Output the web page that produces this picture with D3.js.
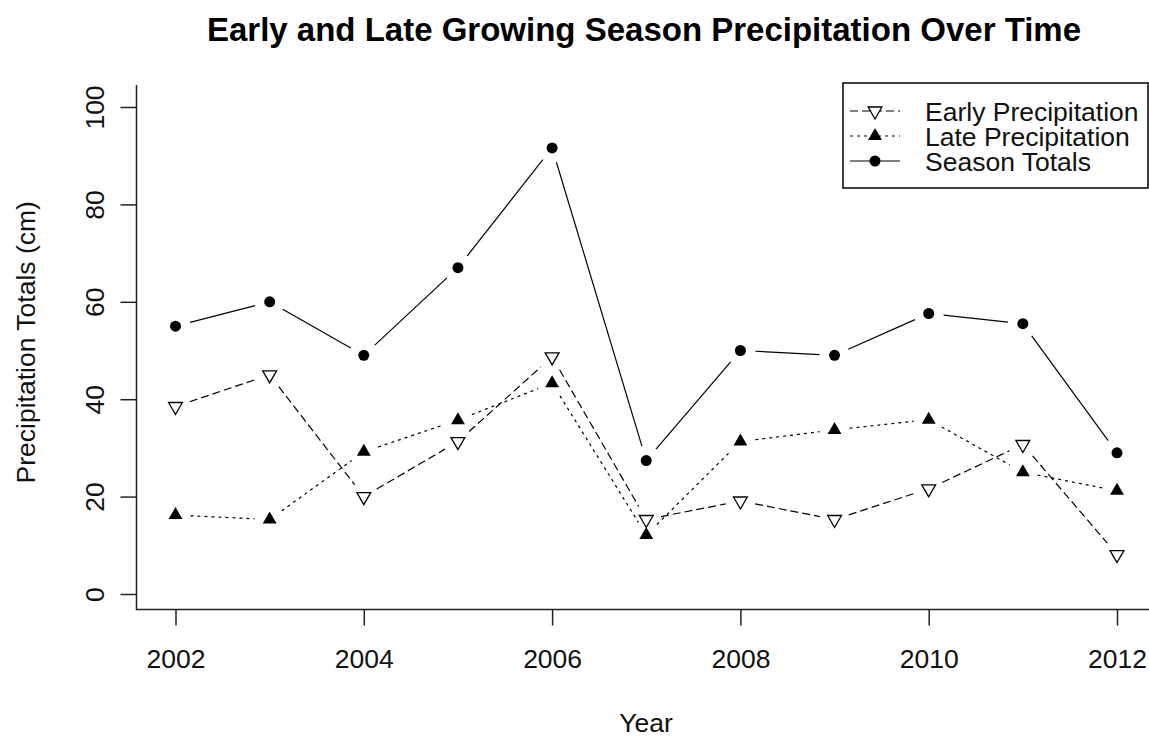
<!DOCTYPE html>
<html>
<head>
<meta charset="utf-8">
<script src="https://cdn.jsdelivr.net/npm/d3@7"></script>
<style>
  html, body { margin: 0; padding: 0; background: #fff; }
  svg { display: block; font-family: "Liberation Sans", Arial, sans-serif; }
</style>
</head>
<body>
<svg id="chart" width="1149" height="738"></svg>
<script>
// Growing season precipitation (cm), 2002-2012
const years = [2002, 2003, 2004, 2005, 2006, 2007, 2008, 2009, 2010, 2011, 2012];
const earlyPrecip = [38.5, 45.0, 20.0, 31.3, 48.7, 15.3, 19.1, 15.3, 21.6, 30.7, 8.1];
const latePrecip = [16.2, 15.3, 29.2, 35.7, 43.3, 12.1, 31.3, 33.7, 35.8, 25.0, 21.2];
const seasonTotals = [55.0, 60.0, 49.0, 67.0, 91.6, 27.4, 50.0, 49.0, 57.6, 55.5, 29.0];

const xTickValues = [2002, 2004, 2006, 2008, 2010, 2012];
const yTickValues = [0, 20, 40, 60, 80, 100];
const seriesNames = ["Early Precipitation", "Late Precipitation", "Season Totals"];

const titleText = "Early and Late Growing Season Precipitation Over Time";
const xLabel = "Year";
const yLabel = "Precipitation Totals (cm)";

const svg = d3.select("#chart");
const FONT = 26.5;

// plot region (R-style: data range padded by 4%)
const plot = { left: 136.5, right: 1155, top: 85, bottom: 609.5 };

const x = d3.scaleLinear().domain([2002, 2012]).range([175.5, 1117]);
const y = d3.scaleLinear().domain([0, 100]).range([594, 107]);

// L-shaped frame
svg.append("path")
  .attr("d", `M${plot.left},${plot.top}V${plot.bottom}H${plot.right}`)
  .attr("fill", "none").attr("stroke", "#222").attr("stroke-width", 1.5);

// x axis ticks and labels
const xAxis = d3.axisBottom(x).tickValues(xTickValues).tickFormat(d3.format("d"))
  .tickSize(16).tickPadding(24);
const gx = svg.append("g").attr("transform", `translate(0,${plot.bottom})`).call(xAxis);
gx.select(".domain").remove();
gx.selectAll(".tick line").attr("stroke", "#222").attr("stroke-width", 1.5);
gx.selectAll(".tick text").attr("font-size", FONT).attr("fill", "#111")
  .attr("font-family", "Liberation Sans, Arial, sans-serif");

// y axis ticks and rotated labels
const yAxis = d3.axisLeft(y).tickValues(yTickValues).tickSize(16).tickFormat(d3.format("d"));
const gy = svg.append("g").attr("transform", `translate(${plot.left},0)`).call(yAxis);
gy.select(".domain").remove();
gy.selectAll(".tick line").attr("stroke", "#222").attr("stroke-width", 1.5);
gy.selectAll(".tick text")
  .attr("x", null).attr("dy", null)
  .attr("transform", "translate(-33,0) rotate(-90)")
  .attr("text-anchor", "middle")
  .attr("font-size", FONT).attr("fill", "#111")
  .attr("font-family", "Liberation Sans, Arial, sans-serif");

// titles
svg.append("text").attr("x", 644).attr("y", 41).attr("text-anchor", "middle")
  .attr("font-size", 33).attr("font-weight", "bold").attr("fill", "#000").text(titleText);
svg.append("text").attr("x", 646).attr("y", 732).attr("text-anchor", "middle")
  .attr("font-size", FONT).attr("fill", "#111").text(xLabel);
svg.append("text").attr("transform", `translate(35,${(plot.top + plot.bottom) / 2 - 5}) rotate(-90)`)
  .attr("text-anchor", "middle").attr("font-size", FONT).attr("fill", "#111").text(yLabel);

// marker shapes
const TRI = 16 * Math.sqrt(3) * 3;       // circumradius 8
const triUp = d3.symbol().type(d3.symbolTriangle).size(TRI)();
const dot = d3.symbol().type(d3.symbolCircle).size(Math.PI * 5.5 * 5.5)();

const series = [
  { name: seriesNames[0], values: earlyPrecip, dash: "8,4", marker: triUp, rot: 180, fill: "#fff", stroke: "#000" },
  { name: seriesNames[1], values: latePrecip, dash: "3,4", marker: triUp, rot: 0, fill: "#000", stroke: "none" },
  { name: seriesNames[2], values: seasonTotals, dash: null, marker: dot, rot: 0, fill: "#000", stroke: "none" }
];

// lines with gaps around each point (type = "b")
const GAP = 15;
function gappedSegments(vals) {
  const pts = vals.map((v, i) => [x(years[i]), y(v)]);
  const segs = [];
  for (let i = 0; i < pts.length - 1; i++) {
    const [x0, y0] = pts[i], [x1, y1] = pts[i + 1];
    const dx = x1 - x0, dy = y1 - y0, len = Math.hypot(dx, dy);
    if (len <= 2 * GAP) continue;
    const ux = dx / len, uy = dy / len;
    segs.push([[x0 + ux * GAP, y0 + uy * GAP], [x1 - ux * GAP, y1 - uy * GAP]]);
  }
  return segs;
}

const line = d3.line();
series.forEach(s => {
  const g = svg.append("g");
  g.selectAll("path.seg").data(gappedSegments(s.values)).join("path")
    .attr("class", "seg")
    .attr("d", d => line(d))
    .attr("fill", "none").attr("stroke", "#000").attr("stroke-width", 1.2)
    .attr("stroke-dasharray", s.dash);
  g.selectAll("path.pt").data(s.values).join("path")
    .attr("class", "pt")
    .attr("d", s.marker)
    .attr("transform", (v, i) => `translate(${x(years[i])},${y(v)}) rotate(${s.rot})`)
    .attr("fill", s.fill === "#fff" ? "none" : s.fill)
    .attr("stroke", s.stroke).attr("stroke-width", 1.3);
});

// legend
const leg = svg.append("g");
leg.append("rect").attr("x", 843).attr("y", 83).attr("width", 305).attr("height", 105)
  .attr("fill", "#fff").attr("stroke", "#000").attr("stroke-width", 1.5);
const rowY = [111, 136, 161];
series.forEach((s, i) => {
  const yy = rowY[i];
  leg.append("line").attr("x1", 850).attr("x2", 900).attr("y1", yy).attr("y2", yy)
    .attr("stroke", "#000").attr("stroke-width", 1.2).attr("stroke-dasharray", s.dash);
  leg.append("path").attr("d", s.marker)
    .attr("transform", `translate(875,${yy}) rotate(${s.rot})`)
    .attr("fill", s.fill).attr("stroke", s.stroke).attr("stroke-width", 1.3);
  leg.append("text").attr("x", 925).attr("y", yy + 9.5).attr("font-size", FONT)
    .attr("fill", "#111").text(s.name);
});
</script>
</body>
</html>
